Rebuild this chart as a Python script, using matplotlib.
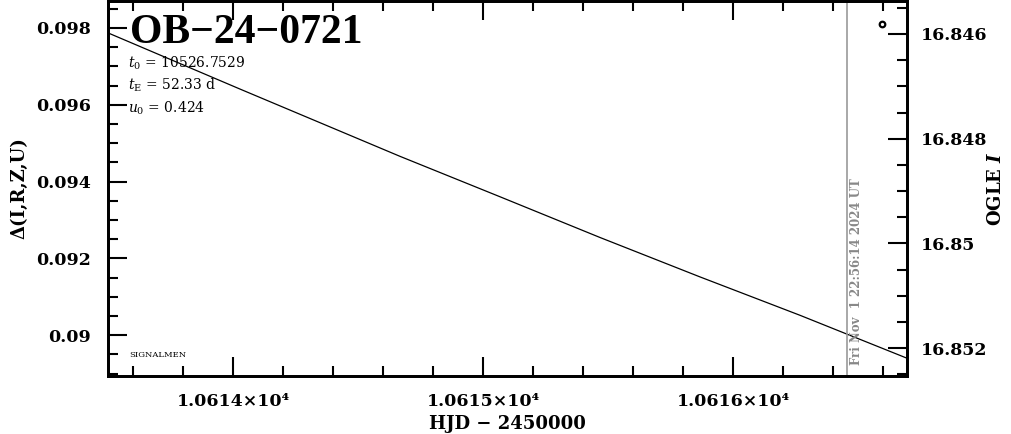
import matplotlib
matplotlib.use("Agg")
import matplotlib.pyplot as plt
from matplotlib.ticker import MultipleLocator, FixedLocator, FuncFormatter

# Datos
hjd = [10613.5, 10614.028, 10614.668, 10615.068, 10615.468, 10615.868, 10616.268, 10616.696]
delta = [0.09787, 0.096408, 0.094657, 0.093605, 0.092545, 0.091519, 0.09052, 0.089403]
obs_hjd = [10616.596]
obs_mag = [16.84581]
now_hjd = 10616.456
x_ticks = [10614, 10615, 10616]
left_ticks = [0.098, 0.096, 0.094, 0.092, 0.09]
right_ticks = [16.846, 16.848, 16.85, 16.852]

plt.rcParams['font.family'] = ['DejaVu Serif']
plt.rcParams['mathtext.fontset'] = 'dejavuserif'

fig = plt.figure(figsize=(10.11, 4.34), dpi=100)
ax = fig.add_axes([108 / 1011, 58 / 434, 799 / 1011, 375 / 434])
ax2 = ax.twinx()

ax.plot(hjd, delta, color='black', lw=0.9)
ax.axvline(now_hjd, color='#999999', lw=1.2)
ax2.plot(obs_hjd, obs_mag, 'o', ms=4, mfc='white', mec='black', mew=1.6)

ax.set_xlim(10613.5, 10616.696)
ax.set_ylim(0.08894, 0.0987)
ax2.set_ylim(16.85253, 16.84537)

ax.xaxis.set_major_locator(FixedLocator(x_ticks))
ax.xaxis.set_minor_locator(MultipleLocator(0.2))
ax.xaxis.set_major_formatter(FuncFormatter(lambda v, p: "%.4f\u00d710\u2074" % (v / 1e4)))
ax.yaxis.set_major_locator(FixedLocator(left_ticks))
ax.yaxis.set_minor_locator(MultipleLocator(0.0005))
ax.yaxis.set_major_formatter(FuncFormatter(lambda v, p: "%g" % round(v, 4)))
ax2.yaxis.set_major_locator(FixedLocator(right_ticks))
ax2.yaxis.set_minor_locator(MultipleLocator(0.0005))
ax2.yaxis.set_major_formatter(FuncFormatter(lambda v, p: "%g" % round(v, 4)))

for a in (ax, ax2):
    for s in a.spines.values():
        s.set_linewidth(2)
ax.tick_params(which='both', direction='in', top=True, right=False, width=1.5,
               labelsize=12.5, pad=12)
ax.tick_params(which='major', length=14)
ax.tick_params(which='minor', length=7)
ax2.tick_params(which='both', direction='in', width=1.5, labelsize=12.5, pad=10)
ax2.tick_params(which='major', length=14)
ax2.tick_params(which='minor', length=7)
for lab in ax.get_xticklabels() + ax.get_yticklabels() + ax2.get_yticklabels():
    lab.set_fontweight('bold')

ax.set_xlabel("HJD \u2212 2450000", fontsize=13, fontweight='bold', labelpad=4)
ax.set_ylabel("\u0394(I,R,Z,U)", fontsize=13, fontweight='bold', labelpad=6)
ax2.set_ylabel(r"OGLE $\mathbfit{I}$", fontsize=13, fontweight='bold', labelpad=0)

ax.text(0.027, 0.965, "OB\u221224\u22120721", transform=ax.transAxes, fontsize=30,
        fontweight='bold', va='top', ha='left', family='Liberation Serif')
ax.text(0.025, 0.835, r"$t_0$ = 10526.7529", transform=ax.transAxes, fontsize=10, va='center')
ax.text(0.025, 0.775, r"$t_{\rm E}$ = 52.33 d", transform=ax.transAxes, fontsize=10, va='center')
ax.text(0.025, 0.715, r"$u_0$ = 0.424", transform=ax.transAxes, fontsize=10, va='center')
ax.text(0.027, 0.055, "SIGNALMEN", transform=ax.transAxes, fontsize=6, va='center')
ax.text(now_hjd + 0.01, 0.08922, "Fri Nov  1 22:56:14 2024 UT", rotation=90,
        color='#888888', fontsize=8.5, fontweight='bold', ha='left', va='bottom')

fig.savefig("out.png", dpi=100)
